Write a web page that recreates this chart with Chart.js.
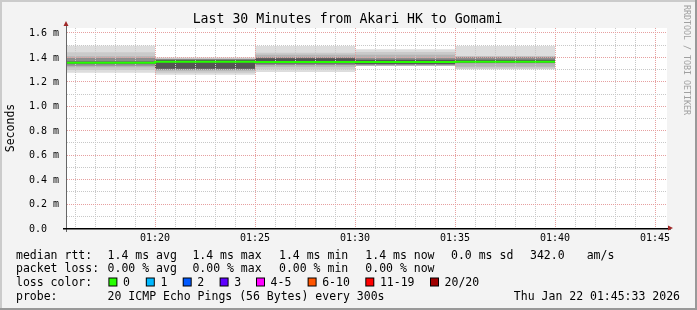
<!DOCTYPE html>
<html>
<head>
<meta charset="utf-8">
<title>Last 30 Minutes from Akari HK to Gomami</title>
<script src="https://cdn.jsdelivr.net/npm/chart.js@4.4.1/dist/chart.umd.min.js"></script>
<style>
  html, body { margin: 0; padding: 0; background: #f3f3f3; }
  #chart { display: block; }
</style>
</head>
<body>
<canvas id="chart" width="697" height="310"></canvas>
<script>
// 5 minute steps, minutes after 01:00
const stepStarts = [15, 20, 25, 30, 35];
const stepMinutes = 5;
const timeMin = 15.6;
const timeMax = 45.6;

// median rtt in ms
const medianRtt = [1.361, 1.368, 1.367, 1.367, 1.368];

// smoke bands, outer (1) to inner (5), ms
const smokeLow1  = [1.279, 1.263, 1.285, 1.336, 1.307];
const smokeHigh1 = [1.500, 1.405, 1.498, 1.471, 1.498];
const smokeLow2  = [1.301, 1.279, 1.307, 1.337, 1.312];
const smokeHigh2 = [1.446, 1.398, 1.443, 1.448, 1.410];
const smokeLow3  = [1.323, 1.295, 1.328, 1.338, 1.328];
const smokeHigh3 = [1.413, 1.394, 1.426, 1.426, 1.410];
const smokeLow4  = [1.336, 1.303, 1.342, 1.340, 1.356];
const smokeHigh4 = [1.399, 1.390, 1.405, 1.399, 1.410];
const smokeLow5  = [1.353, 1.312, 1.354, 1.350, 1.360];
const smokeHigh5 = [1.371, 1.386, 1.397, 1.385, 1.385];

// axis ticks
const xLabelMinutes = [20, 25, 30, 35, 40, 45];
const yLabelValues = [0, 0.2, 0.4, 0.6, 0.8, 1.0, 1.2, 1.4, 1.6];
const yMax = 1.645;

// legend texts
const rttStats = ['1.4 ms avg', '1.4 ms max', '1.4 ms min', '1.4 ms now', '0.0 ms sd', '342.0', 'am/s'];
const lossStats = ['0.00 % avg', '0.00 % max', '0.00 % min', '0.00 % now'];
const lossLabels = ['0', '1', '2', '3', '4-5', '6-10', '11-19', '20/20'];
const lossColors = ['#26ff00', '#00b8ff', '#0059ff', '#5e00ff', '#ff00ff', '#ff5500', '#ff0000', '#a00000'];
const probeText = '20 ICMP Echo Pings (56 Bytes) every 300s';
const dateText = 'Thu Jan 22 01:45:33 2026';

const smokeColors = ['#dddddd', '#cacaca', '#b4b4b4', '#8e8e8e', '#555555'];
const smokeBands = [
    [smokeLow1, smokeHigh1],
    [smokeLow2, smokeHigh2],
    [smokeLow3, smokeHigh3],
    [smokeLow4, smokeHigh4],
    [smokeLow5, smokeHigh5]
];

const mono = '"DejaVu Sans Mono", monospace';
const minorGrid = '#c8c8c8';
const majorGrid = '#e6a0a0';

function stepPoints(values){
    const pts = values.map((v, i) => ({ x: stepStarts[i], y: v }));
    pts.push({ x: stepStarts[stepStarts.length - 1] + stepMinutes, y: values[values.length - 1] });
    return pts;
}

// minor grid every minute / every 0.1 ms
const xTicks = [];
for (let m = 16; m <= 45; m++) xTicks.push(m);
const yTicks = [];
for (let i = 0; i <= 16; i++) yTicks.push(i / 10);

// index 0 is drawn on top, so median first, then inner to outer bands
const datasets = [{
    data: stepPoints(medianRtt),
    borderColor: lossColors[0],
    borderWidth: 2,
    stepped: true,
    pointRadius: 0,
    fill: false
}];
for (let b = smokeBands.length - 1; b >= 0; b--) {
    const lowIndex = datasets.length;
    datasets.push({
        data: stepPoints(smokeBands[b][0]),
        borderColor: 'rgba(0,0,0,0)',
        borderWidth: 0,
        stepped: true,
        pointRadius: 0,
        fill: false
    });
    datasets.push({
        data: stepPoints(smokeBands[b][1]),
        borderColor: 'rgba(0,0,0,0)',
        backgroundColor: smokeColors[b],
        borderWidth: 0,
        stepped: true,
        pointRadius: 0,
        fill: lowIndex
    });
}

const isMajorY = v => yLabelValues.some(l => Math.abs(l - v) < 1e-6);

// one dotted grid line; each line gets its own path so colours can't mix
function dottedLine(ctx, x1, y1, x2, y2, color){
    ctx.strokeStyle = color;
    ctx.beginPath();
    ctx.moveTo(x1, y1);
    ctx.lineTo(x2, y2);
    ctx.stroke();
}

function drawGrid(chart){
    const ctx = chart.ctx;
    const a = chart.chartArea;
    const xs = chart.scales.x, ys = chart.scales.y;
    ctx.save();
    ctx.lineWidth = 1;
    ctx.setLineDash([1, 1]);
    xTicks.forEach(m => {
        const px = Math.round(xs.getPixelForValue(m)) + 0.5;
        dottedLine(ctx, px, a.bottom, px, a.top, xLabelMinutes.includes(m) ? majorGrid : minorGrid);
    });
    yTicks.forEach(v => {
        if (v === 0) return;
        const py = Math.round(ys.getPixelForValue(v)) - 0.5;
        dottedLine(ctx, a.left, py, a.right, py, isMajorY(v) ? majorGrid : minorGrid);
    });
    ctx.restore();
}

const rrdFrame = {
    id: 'rrdFrame',
    beforeDraw(chart){
        const ctx = chart.ctx;
        const a = chart.chartArea;
        ctx.save();
        ctx.fillStyle = '#f3f3f3';
        ctx.fillRect(0, 0, chart.width, chart.height);
        ctx.fillStyle = '#ffffff';
        ctx.fillRect(a.left, a.top, a.right - a.left, a.bottom - a.top);
        ctx.restore();
    },
    // grid over the smoke, under the median line
    beforeDatasetDraw(chart, args){
        if (args.index === 0) drawGrid(chart);
    },
    afterDraw(chart){
        const ctx = chart.ctx;
        const a = chart.chartArea;
        const W = chart.width, H = chart.height;
        ctx.save();

        // 3d border
        ctx.fillStyle = '#cbcbcb';
        ctx.fillRect(0, 0, W, 2);
        ctx.fillRect(0, 0, 2, H);
        ctx.fillStyle = '#999999';
        ctx.fillRect(0, H - 2, W, 2);
        ctx.fillRect(W - 2, 0, 2, H);

        // axes
        ctx.fillStyle = '#666666';
        ctx.fillRect(a.left - 1, 25, 1, a.bottom - 25 + 3);
        ctx.fillStyle = '#000000';
        ctx.fillRect(a.left - 4, a.bottom - 1, a.right - a.left + 8, 1.5);
        ctx.fillStyle = '#a02828';
        ctx.beginPath();
        ctx.moveTo(a.left - 3.5, 26);
        ctx.lineTo(a.left + 1.5, 26);
        ctx.lineTo(a.left - 1, 21);
        ctx.closePath();
        ctx.fill();
        ctx.beginPath();
        ctx.moveTo(a.right + 1, a.bottom - 3.5);
        ctx.lineTo(a.right + 1, a.bottom + 1.5);
        ctx.lineTo(a.right + 6, a.bottom - 1);
        ctx.closePath();
        ctx.fill();

        // title
        ctx.fillStyle = '#000000';
        ctx.font = '13.2px ' + mono;
        ctx.textAlign = 'center';
        ctx.textBaseline = 'alphabetic';
        ctx.fillText('Last 30 Minutes from Akari HK to Gomami', 347.5, 23.3);

        // y axis title
        ctx.font = '11.5px ' + mono;
        ctx.save();
        ctx.translate(11, 128);
        ctx.rotate(-Math.PI / 2);
        ctx.textBaseline = 'middle';
        ctx.fillText('Seconds', 0, 0);
        ctx.restore();

        // watermark
        ctx.save();
        ctx.fillStyle = '#a0a0a0';
        ctx.font = '8.3px ' + mono;
        ctx.translate(686.5, 5);
        ctx.rotate(Math.PI / 2);
        ctx.textAlign = 'left';
        ctx.textBaseline = 'middle';
        ctx.fillText('RRDTOOL / TOBI OETIKER', 0, 0);
        ctx.restore();

        // legend
        ctx.textAlign = 'left';
        ctx.textBaseline = 'alphabetic';
        ctx.fillStyle = '#000000';
        ctx.font = '11.5px ' + mono;
        const rttX = [107.6, 192.4, 279, 365.3, 451, 530, 586.7];
        ctx.fillText('median rtt:', 16, 258.5);
        rttStats.forEach((t, i) => ctx.fillText(t, rttX[i], 258.5));
        ctx.fillText('packet loss:', 16, 272.2);
        lossStats.forEach((t, i) => ctx.fillText(t, rttX[i], 272.2));
        ctx.fillText('loss color:', 16, 286);
        const boxX = [108.4, 145.8, 182.7, 219.6, 256, 307.6, 365.3, 430];
        lossLabels.forEach((t, i) => {
            ctx.fillStyle = '#000000';
            ctx.fillRect(boxX[i], 277.5, 9, 9);
            ctx.fillStyle = lossColors[i];
            ctx.fillRect(boxX[i] + 1, 278.5, 7, 7);
            ctx.fillStyle = '#000000';
            ctx.fillText(t, boxX[i] + 14.6, 286);
        });
        ctx.fillText('probe:', 16, 299.7);
        ctx.fillText(probeText, 107.6, 299.7);
        ctx.textAlign = 'right';
        ctx.fillText(dateText, 680, 299.7);

        ctx.restore();
    }
};

Chart.defaults.font.family = mono;
Chart.defaults.color = '#000000';

new Chart(document.getElementById('chart'), {
    type: 'line',
    data: { datasets: datasets },
    options: {
        responsive: false,
        devicePixelRatio: 1,
        animation: false,
        events: [],
        layout: { padding: { left: 0, right: 30, top: 28, bottom: 61 } },
        plugins: {
            legend: { display: false },
            tooltip: { enabled: false },
            filler: { propagate: false }
        },
        scales: {
            x: {
                type: 'linear',
                min: timeMin,
                max: timeMax,
                afterBuildTicks: s => { s.ticks = xTicks.map(v => ({ value: v })); },
                afterFit: s => { s.height = 20; },
                ticks: {
                    autoSkip: false,
                    maxRotation: 0,
                    padding: 3,
                    font: { size: 10 },
                    callback: v => xLabelMinutes.includes(v) ? '01:' + String(v).padStart(2, '0') : ''
                },
                grid: { display: false, drawTicks: false },
                border: { display: false }
            },
            y: {
                type: 'linear',
                min: 0,
                max: yMax,
                afterBuildTicks: s => { s.ticks = yTicks.map(v => ({ value: v })); },
                afterFit: s => { s.width = 67; },
                ticks: {
                    autoSkip: false,
                    padding: 8,
                    font: { size: 10 },
                    callback: v => {
                        if (!isMajorY(v)) return '';
                        return v === 0 ? '0.0  ' : v.toFixed(1) + ' m';
                    }
                },
                grid: { display: false, drawTicks: false },
                border: { display: false }
            }
        }
    },
    plugins: [rrdFrame]
});
</script>
</body>
</html>
